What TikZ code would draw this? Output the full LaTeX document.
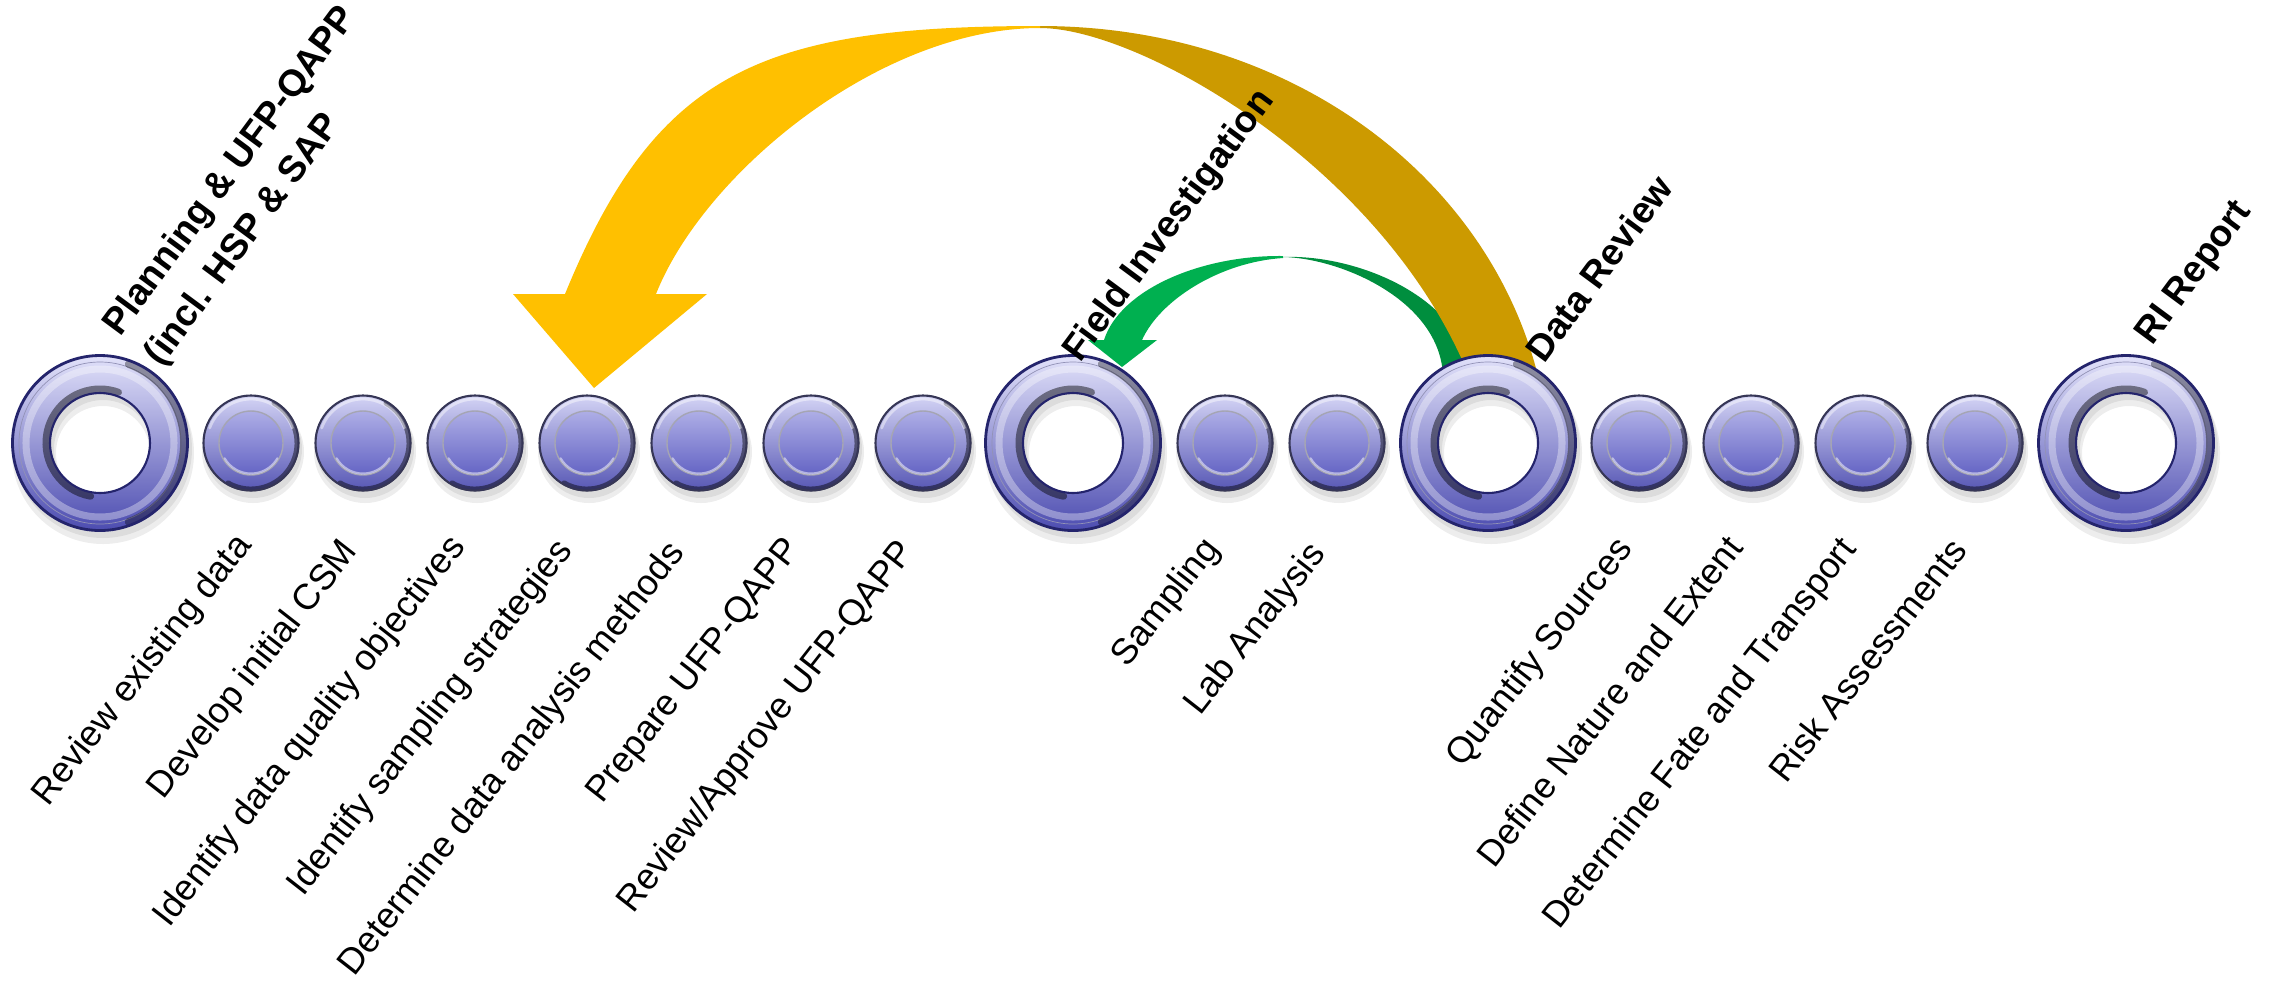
\documentclass[tikz,border=0pt]{standalone}
\usepackage{fontspec}
\setmainfont{Liberation Sans}
\definecolor{ringtop}{HTML}{E2E2FA}
\definecolor{ringbot}{HTML}{4C4CB0}
\definecolor{ringedge}{HTML}{24246C}
\definecolor{balltop}{HTML}{D4D4F5}
\definecolor{ballbot}{HTML}{5656B4}
\definecolor{balledge}{HTML}{363656}
\definecolor{disctop}{HTML}{AEAEE6}
\definecolor{discbot}{HTML}{6464C4}
\definecolor{goldfront}{HTML}{FFC000}
\definecolor{goldback}{HTML}{CC9A00}
\definecolor{greenfront}{HTML}{00B050}
\definecolor{greenback}{HTML}{008E3E}
\begin{document}
\begin{tikzpicture}[x=0.01cm,y=-0.01cm,line join=round,line cap=round,
    steplabel/.style={font=\fontsize{10.3}{13}\selectfont,rotate=52,anchor=base east,inner sep=0pt},
    phaselabel/.style={font=\fontsize{10.6}{14.5}\selectfont\bfseries,rotate=53.5,anchor=base west,inner sep=0pt,align=left}]
    \useasboundingbox (0,0) rectangle (2279,999);
    \def\yrow{443}
    \coordinate (greentail) at (1456,376);
    \coordinate (greentip) at (1122,367);
    \coordinate (goldtail) at (1503,376);
    \coordinate (goldtip) at (594,388);
    \fill[greenback] (1443,376) .. controls (1440,300) and (1340,258) .. (1283,257) .. controls (1360,254) and (1465,300) .. (1470,376) -- cycle;
    \fill[greenfront] (1283,256) .. controls (1200,255) and (1120,290) .. (1104,340) -- (1088,340) -- (greentip) -- (1157,340) -- (1142,340) .. controls (1160,300) and (1220,262) .. (1283,258) -- cycle;
    \fill[goldback] (1469,376) .. controls (1384,167) and (1140,28) .. (1040,28) -- (1040,26) .. controls (1290,26) and (1488,176) .. (1538,376) -- cycle;
    \fill[goldfront] (1040,26) .. controls (760,26) and (656,72) .. (565,294) -- (513,294) -- (goldtip) -- (707,294) -- (656,294) .. controls (704,173) and (880,28) .. (1040,28) -- cycle;
    \foreach \x in {100,1073,1488,2126}{
        \fill[black,opacity=.07,even odd rule] (\x+3,453) circle[radius=91] (\x+3,453) circle[radius=47];
        \fill[black,opacity=.07,even odd rule] (\x+3,449) circle[radius=89] (\x+3,449) circle[radius=49];
        \path[even odd rule,top color=ringtop,bottom color=ringbot] (\x,\yrow) circle[radius=88] (\x,\yrow) circle[radius=50];
        \draw[white,opacity=.35,line width=2pt] (\x,\yrow) circle[radius=74];
        \draw[ringedge!50,line width=.2pt] (\x,\yrow) circle[radius=81];
        \draw[black,opacity=.35,line width=2.2pt] (\x,\yrow) ++(-70:84) arc[start angle=-70,end angle=70,radius=84];
        \draw[black,opacity=.45,line width=2pt] (\x,\yrow) ++(100:54) arc[start angle=100,end angle=290,radius=54];
        \draw[ringedge,line width=.6pt] (\x,\yrow) circle[radius=50];
        \draw[ringedge,line width=.8pt] (\x,\yrow) circle[radius=87.5];
    }
    \foreach \x in {251,363,475,587,699,811,923,1225,1337,1639,1751,1863,1975}{
        \fill[black,opacity=.07] (\x+2,452) circle[radius=51];
        \fill[black,opacity=.07] (\x+2,449) circle[radius=49];
        \path[top color=balltop,bottom color=ballbot] (\x,\yrow) circle[radius=48];
        \draw[black,opacity=.45,line width=1.4pt] (\x,\yrow) ++(-60:46) arc[start angle=-60,end angle=120,radius=46];
        \draw[balledge,line width=.6pt] (\x,\yrow) circle[radius=47.5];
        \draw[white,opacity=.45,line width=.8pt] (\x,\yrow) ++(200:44) arc[start angle=200,end angle=340,radius=44];
        \path[top color=disctop,bottom color=discbot,draw=balledge!45] (\x,\yrow) circle[radius=32];
        \draw[white,opacity=.5,line width=.6pt] (\x,\yrow) ++(30:30.5) arc[start angle=30,end angle=150,radius=30.5];
    }
    \node[phaselabel,anchor=south west] (planning) at (168,373) {Planning \& UFP-QAPP\\(incl. HSP \& SAP};
    \node[phaselabel] (field) at (1080,364) {Field Investigation};
    \node[phaselabel] (datareview) at (1544,365) {Data Review};
    \node[phaselabel] (report) at (2152,347) {RI Report};
    \node[steplabel] (review) at (253,545) {Review existing data};
    \node[steplabel] (csm) at (359,551) {Develop initial CSM};
    \node[steplabel] (dqo) at (467,547) {Identify data quality objectives};
    \node[steplabel] (strategies) at (574,551) {Identify sampling strategies};
    \node[steplabel] (methods) at (686,553) {Determine data analysis methods};
    \node[steplabel] (prepare) at (802,549) {Prepare UFP-QAPP};
    \node[steplabel] (approve) at (916,552) {Review/Approve UFP-QAPP};
    \node[steplabel] (sampling) at (1221,549) {Sampling};
    \node[steplabel] (lab) at (1327,554) {Lab Analysis};
    \node[steplabel] (sources) at (1634,549) {Quantify Sources};
    \node[steplabel] (nature) at (1745,548) {Define Nature and Extent};
    \node[steplabel] (fate) at (1858,549) {Determine Fate and Transport};
    \node[steplabel] (risk) at (1969,551) {Risk Assessments};
\end{tikzpicture}
\end{document}
